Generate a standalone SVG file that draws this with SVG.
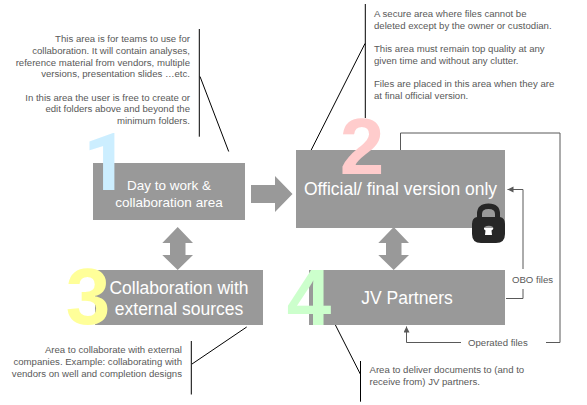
<svg xmlns="http://www.w3.org/2000/svg" width="587" height="405" viewBox="0 0 587 405">
<style>
.box{fill:#999}
.big{font-family:"Liberation Sans",Arial,sans-serif;fill:#fff;text-anchor:middle}
.note{font-family:"Liberation Sans",Arial,sans-serif;font-size:9.6px;fill:#595959}
.end{text-anchor:end}
.num{font-family:"Liberation Sans",Arial,sans-serif;font-weight:bold;font-size:80px;text-anchor:middle}
.blk{fill:none;stroke:#000;stroke-width:1}
.gl{fill:none;stroke:#595959;stroke-width:1}
.blockarrow{fill:#999}
</style>
<defs>
<marker id="ah" markerUnits="userSpaceOnUse" markerWidth="7" markerHeight="7" refX="6" refY="3" orient="auto"><path d="M0 0L6 3L0 6z" fill="#595959"/></marker>
</defs>
<g id="connectors">
<path class="blk" d="M199.300 29V136.700M200 76.500L228.700 151.500"/>
<path class="blk" d="M365.300 4V118M365 43.500L310.700 151"/>
<path class="blk" d="M191.300 341V394.500M192 364L246.700 327"/>
<path class="blk" d="M360.500 361V401.700M360.300 374L331.700 317.700"/>
<path class="blockarrow" d="M251 185H275V176L292.500 194L275 212V203H251z"/>
<path class="blockarrow" d="M177.700 227L193 243H185.500V255H193L177.700 270L162.300 255H170V243H162.300z"/>
<path class="blockarrow" d="M393.700 227L409 243H401.500V255H409L393.700 270L378.300 255H386V243H378.300z"/>
<path class="gl" d="M400.500 150V133H560V342.500H546"/>
<path class="gl" d="M506 298.500H523V289"/>
<path class="gl" d="M523 269V189.500H507.500" marker-end="url(#ah)"/>
<path class="gl" d="M461 342.500H406.500V326.500" marker-end="url(#ah)"/>
</g>
<g id="node-1">
<rect class="box" x="93" y="163" width="152" height="57"/>
<text class="num" x="106" y="190" fill="#cceeff" style="font-family:Roboto,sans-serif">1</text>
<text class="big" font-size="13.5" x="169" y="190">Day to work &amp;</text>
<text class="big" font-size="13.5" x="169" y="207">collaboration area</text>
</g>
<g id="node-2">
<rect class="box" x="296" y="150" width="209" height="78"/>
<text class="num" x="362" y="174" fill="#ffcccc">2</text>
<text class="big" font-size="17.5" x="400.500" y="195">Official/ final version only</text>
<path id="lock" fill="#262626" fill-rule="evenodd" d="M472 224Q472 218 477 217V214Q477 203.500 488.500 203.500Q500 203.500 500 214V217Q505 218 505 224V234Q505 243 496 243H481Q472 243 472 234zM482 217H495V214Q495 209 488.500 209Q482 209 482 214zM485.500 230.500L485 235H492L491.500 230.500Q494 229 493 227Q489 224.500 484.500 227Q483 229 485.500 230.500z"/>
</g>
<g id="node-3">
<rect class="box" x="95" y="270" width="168" height="55"/>
<text class="num" x="88" y="324" fill="#ffff99">3</text>
<text class="big" font-size="17.5" x="179" y="294">Collaboration with</text>
<text class="big" font-size="17.5" x="179" y="315">external sources</text>
</g>
<g id="node-4">
<rect class="box" x="309" y="270" width="196" height="55"/>
<text class="num" x="309" y="325" fill="#ccffcc">4</text>
<text class="big" font-size="17.5" x="407" y="304">JV Partners</text>
</g>
<g id="notes">
<text class="note end" x="190" y="42">This area is for teams to use for</text>
<text class="note end" x="190" y="54">collaboration. It will contain analyses,</text>
<text class="note end" x="190" y="66">reference material from vendors, multiple</text>
<text class="note end" x="190" y="77">versions, presentation slides …etc.</text>
<text class="note end" x="190" y="101">In this area the user is free to create or</text>
<text class="note end" x="190" y="112">edit folders above and beyond the</text>
<text class="note end" x="190" y="124">minimum folders.</text>
<text class="note" x="374" y="17">A secure area where files cannot be</text>
<text class="note" x="374" y="29">deleted except by the owner or custodian.</text>
<text class="note" x="374" y="52">This area must remain top quality at any</text>
<text class="note" x="374" y="64">given time and without any clutter.</text>
<text class="note" x="374" y="87">Files are placed in this area when they are</text>
<text class="note" x="374" y="99">at final official version.</text>
<text class="note end" x="182" y="353">Area to collaborate with external</text>
<text class="note end" x="182" y="365">companies. Example: collaborating with</text>
<text class="note end" x="182" y="377">vendors on well and completion designs</text>
<text class="note" x="369.500" y="373">Area to deliver documents to (and to</text>
<text class="note" x="369.500" y="385">receive from) JV partners.</text>
<text class="note" x="512" y="283">OBO files</text>
<text class="note" x="468" y="346">Operated files</text>
</g>
</svg>
